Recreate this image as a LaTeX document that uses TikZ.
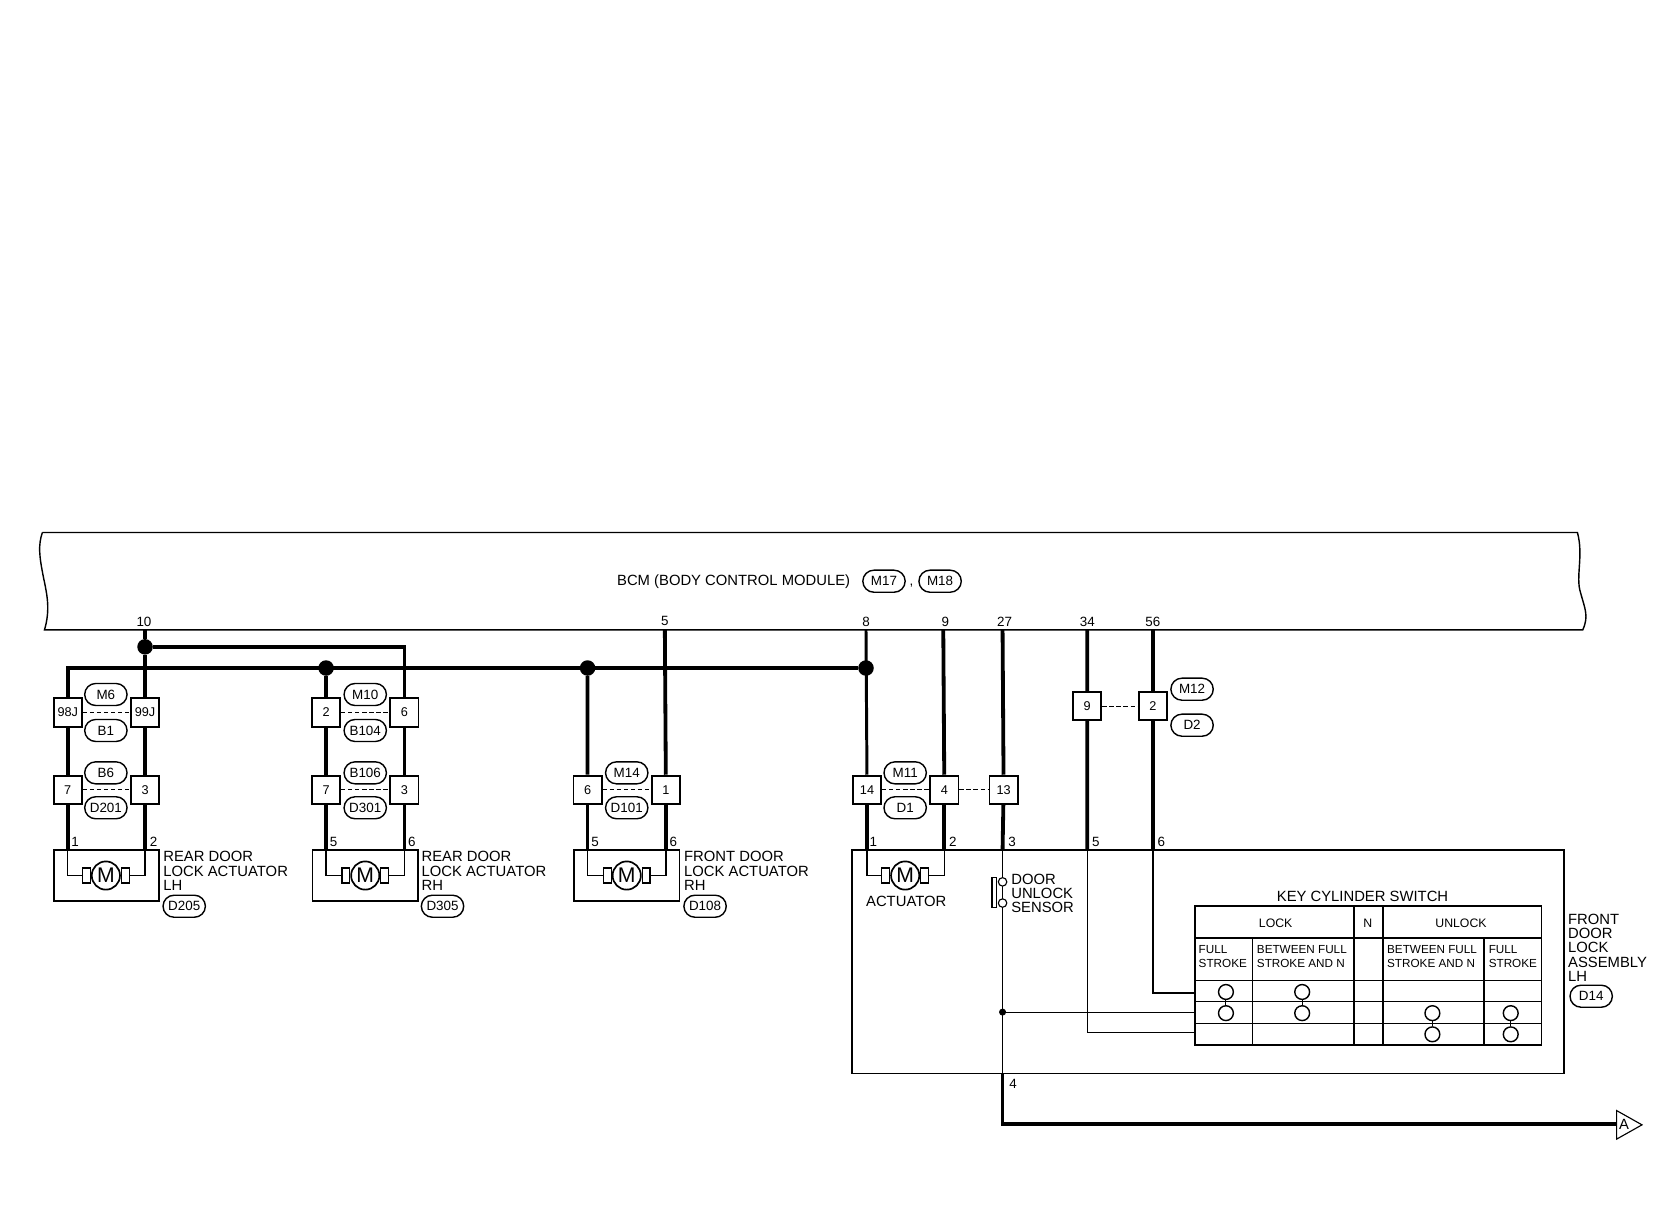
\documentclass[tikz,border=0pt]{standalone}
\usepackage{fontspec}
\setmainfont{Liberation Sans}
\usetikzlibrary{calc}

\begin{document}
\begin{tikzpicture}[x=0.75pt,y=-0.75pt,
    wire/.style={line width=2.7pt},
    thinwire/.style={line width=1pt},
    dashlink/.style={line width=0.9pt,densely dashed},
    pinbox/.style={draw,line width=1.3pt,fill=white,minimum width=20pt,minimum height=20pt,inner sep=0pt,font=\fontsize{9}{9}\selectfont},
    oval/.style={draw,line width=1pt,fill=white,rounded corners=7.8pt,minimum width=30pt,minimum height=15.6pt,inner sep=0pt,font=\fontsize{9.5}{9.5}\selectfont},
    dot/.style={circle,fill=black,inner sep=0pt,minimum size=#1},
    pinlabel/.style={inner sep=0pt,font=\fontsize{9.5}{9.5}\selectfont},
    lbl/.style={inner sep=0pt,align=left,font=\fontsize{10.5}{10.1}\selectfont},
    motor/.style={draw,circle,line width=1.2pt,fill=white,inner sep=0pt,minimum size=20pt,font=\fontsize{15}{15}\selectfont},
    brush/.style={draw,line width=0.9pt,fill=white,minimum width=5.5pt,minimum height=10.5pt,inner sep=0pt},
    contact/.style={draw,circle,line width=1pt,fill=white,inner sep=0pt,minimum size=10.5pt}]
    \useasboundingbox (0,0) rectangle (1568,1148.6);

    \draw[line width=1pt] (40,503) -- (1490,503) .. controls (1496,525) and (1488,545) .. (1493,560) .. controls (1497,575) and (1501,582) .. (1495,595) -- (42,595) .. controls (48,575) and (44,560) .. (41,545) .. controls (37,525) and (36,515) .. (40,503);
    \node[lbl] (bcm) at (693,549) {BCM (BODY CONTROL MODULE)};
    \node[oval] (m17) at (835,549) {M17};
    \node[pinlabel] (comma) at (861,553) {,};
    \node[oval] (m18) at (888,549) {M18};

    % pins on the module
    \foreach \n/\x/\lx/\t in {t10/137/136/10,t5/628/628/5,t8/818/818/8,t9/891/893/9,t27/947/949/27,t34/1027/1027/34,t56/1089/1089/56}{
        \coordinate (\n) at (\x,595);
        \node[pinlabel] (l\n) at (\lx,587) {\t};
    }

    % connectors
    \foreach \n/\x/\y/\t in {a1/64/673/98J,a2/137/673/99J,b1/64/746/7,b2/137/746/3,
        c1/308/673/2,c2/382/673/6,d1/308/746/7,d2/382/746/3,
        e1/555/746/6,e2/629/746/1,f1/819/746/14,f2/892/746/4,f3/948/746/13,
        g1/1027/667/9,g2/1089/667/2}{
        \node[pinbox] (\n) at (\x,\y) {\t};
    }
    \draw[dashlink] (a1) -- (a2) (b1) -- (b2) (c1) -- (c2) (d1) -- (d2) (e1) -- (e2) (f1) -- (f2) (f2) -- (f3) (g1) -- (g2);

    \foreach \n/\x/\y/\t in {oa/100/656/M6,ob/100/690/B1,oc/100/730/B6,od/100/763/D201,
        oe/345/656/M10,of/345/690/B104,og/345/730/B106,oh/345/763/D301,
        oi/592/730/M14,oj/592/763/D101,ok/855/730/M11,ol/855/763/D1,
        om/1126/651/M12,on/1126/685/D2,oo/174/856/D205,op/418/856/D305,oq/666/856/D108,or/1503/941/D14}{
        \node[oval] (\n) at (\x,\y) {\t};
    }

    % actuators
    \draw[line width=1pt] (51,803) rectangle (150,851);
    \draw[line width=1pt] (295,803) rectangle (395,851);
    \draw[line width=1pt] (542,803) rectangle (642,851);
    \draw[line width=1.2pt] (805,803) rectangle (1477,1014);
    \foreach \n/\x/\p/\q in {ma/100/b1/b2,mb/345/d1/d2,mc/592/e1/e2,md/855/f1/f2}{
        \node[motor] (\n) at (\x,827) {M};
        \node[brush,anchor=east] (\n l) at (\n.west) {};
        \node[brush,anchor=west] (\n r) at (\n.east) {};
        \coordinate (\n a) at (\p |- 0,803);
        \coordinate (\n b) at (\q |- 0,803);
        \draw[wire] (\p) -- (\n a) (\q) -- (\n b);
        \draw[thinwire] (\n a) |- (\n l.west) (\n b) |- (\n r.east);
    }

    % harness
    \node[dot=11pt] (j1) at (137,611) {};
    \node[dot=11pt] (j2) at (308,631) {};
    \node[dot=11pt] (j3) at (555,631) {};
    \node[dot=11pt] (j4) at (818,631) {};
    \coordinate (k1) at (382,611);
    \coordinate (k2) at (64,631);
    \draw[wire] (t10) -- (j1) -- (a2) (j1) -- (k1) -- (c2);
    \draw[wire] (a1) -- (k2) -- (j4);
    \draw[wire] (j2) -- (c1) (j3) -- (e1) (t5) -- (e2);
    \draw[wire,line width=2.1pt] (t8) -- (f1);
    \draw[wire] (t9) -- (f2) (t27) -- (f3) (t34) -- (g1) (t56) -- (g2);
    \draw[wire] (a1) -- (b1) (a2) -- (b2) (c1) -- (d1) (c2) -- (d2);

    % sensor and switch wiring
    \coordinate (s3) at (947,803);
    \coordinate (s5) at (1027,803);
    \coordinate (s6) at (1089,803);
    \coordinate (s4) at (947,1014);
    \coordinate (arrowend) at (1527,1062);
    \node[dot=5pt] (j5) at (947,956) {};
    \coordinate (w3) at (1129,956.4);
    \coordinate (w4) at (1129,975);
    \coordinate (w6) at (1129,938);
    \draw[wire] (f3) -- (s3) (g1) -- (s5) (g2) -- (s6);
    \draw[thinwire] (s3) -- (s4) (s5) |- (w4) (j5 |- w3) -- (w3);
    \draw[thinwire,line width=1.3pt] (s6) |- (w6);
    \draw[wire] (s4) |- (arrowend);
    \draw[line width=0.8pt,fill=white] (1527,1049) -- (1551,1062.5) -- (1527,1076) -- cycle;
    \node[lbl] (lA) at (1534,1062) {A};
    \node[circle,draw,line width=0.8pt,fill=white,inner sep=0pt,minimum size=6pt] (s1) at (947,833) {};
    \node[circle,draw,line width=0.8pt,fill=white,inner sep=0pt,minimum size=6pt] (s2) at (947,853) {};
    \draw[line width=0.8pt,fill=white] (937,829) rectangle (941,857);

    % key cylinder switch
    \draw[line width=1.3pt] (1129,856) rectangle (1456,987);
    \draw[line width=1pt] (1129,886) -- (1456,886);
    \draw[line width=0.7pt] (1129,926) -- (1456,926) (1129,946) -- (1456,946) (1129,967) -- (1456,967);
    \draw[line width=1.1pt] (1183,886) -- (1183,987) (1279,856) -- (1279,987) (1402,886) -- (1402,987);
    \draw[line width=1.5pt] (1306,856) -- (1306,987);
    \foreach \n/\x/\y/\z in {sa/1158/937/957,sb/1230/937/957,sc/1353/957/977,sd/1427/957/977}{
        \node[contact] (\n a) at (\x,\y) {};
        \node[contact] (\n b) at (\x,\z) {};
        \draw[line width=0.7pt] (\n a) -- (\n b);
    }

    % pin numbers and texts
    \foreach \n/\x/\y/\t in {pa/71/795/1,pb/145/795/2,pc/315/795/5,pd/389/795/6,pe/562/795/5,pf/636/795/6,
        pg/825/795/1,ph/900/795/2,pi/956/795/3,pj/1035/795/5,pk/1097/795/6,pl/957/1024/4}{
        \node[pinlabel] (\n) at (\x,\y) {\t};
    }
    \node[lbl,anchor=north west] (ta) at (154,804) {REAR DOOR\\LOCK ACTUATOR\\LH};
    \node[lbl,anchor=north west] (tb) at (398,804) {REAR DOOR\\LOCK ACTUATOR\\RH};
    \node[lbl,anchor=north west] (tc) at (646,804) {FRONT DOOR\\LOCK ACTUATOR\\RH};
    \node[lbl] (td) at (856,851) {ACTUATOR};
    \node[lbl,anchor=north west] (te) at (955,825) {DOOR\\UNLOCK\\SENSOR};
    \node[lbl] (tf) at (1287,847) {KEY CYLINDER SWITCH};
    \node[lbl,anchor=north west] (tg) at (1481,863) {FRONT\\DOOR\\LOCK\\ASSEMBLY\\LH};
    \foreach \n/\x/\t in {ha/1205/LOCK,hb/1292/N,hc/1380/UNLOCK}{
        \node[pinlabel,font=\fontsize{8.7}{9}\selectfont] (\n) at (\x,872) {\t};
    }
    \foreach \n/\x/\t in {ca/1132/FULL\\STROKE,cb/1187/BETWEEN FULL\\STROKE AND N,cc/1310/BETWEEN FULL\\STROKE AND N,cd/1406/FULL\\STROKE}{
        \node[lbl,anchor=north west,font=\fontsize{8.3}{10}\selectfont] (\n) at (\x,893) {\t};
    }
\end{tikzpicture}
\end{document}
